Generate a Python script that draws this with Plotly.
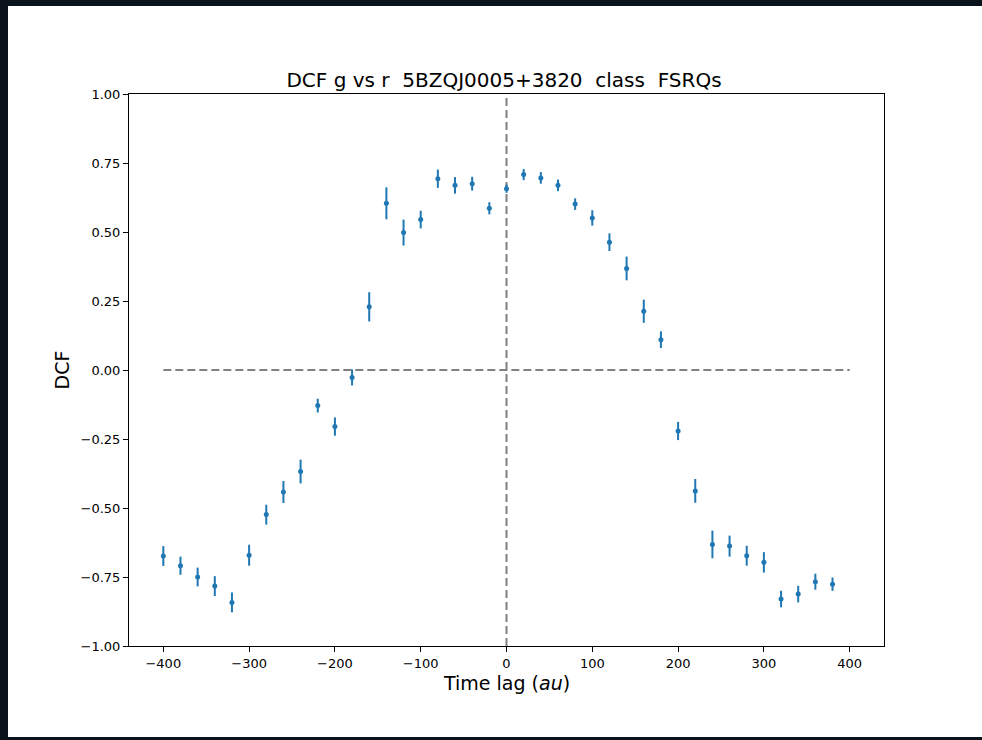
import plotly.graph_objects as go

# ---- data ----
lags = [-400, -380, -360, -340, -320, -300, -280, -260, -240, -220,
        -200, -180, -160, -140, -120, -100, -80, -60, -40, -20,
        0, 20, 40, 60, 80, 100, 120, 140, 160, 180,
        200, 220, 240, 260, 280, 300, 320, 340, 360, 380]
dcf = [-0.674, -0.709, -0.750, -0.783, -0.842, -0.671, -0.524, -0.442, -0.368, -0.129,
       -0.205, -0.027, 0.229, 0.604, 0.498, 0.545, 0.693, 0.669, 0.675, 0.586,
       0.657, 0.708, 0.696, 0.669, 0.601, 0.551, 0.463, 0.368, 0.213, 0.110,
       -0.221, -0.438, -0.632, -0.638, -0.673, -0.697, -0.830, -0.812, -0.767, -0.776]
dcf_err = [0.036, 0.033, 0.034, 0.036, 0.036, 0.038, 0.036, 0.040, 0.043, 0.025,
           0.033, 0.029, 0.053, 0.058, 0.047, 0.032, 0.033, 0.030, 0.025, 0.022,
           0.015, 0.020, 0.021, 0.021, 0.021, 0.028, 0.032, 0.043, 0.042, 0.030,
           0.033, 0.043, 0.050, 0.038, 0.036, 0.037, 0.030, 0.030, 0.029, 0.024]
hline_x = [-400, 400]
hline_y = [0, 0]
vline_x = [0, 0]
vline_y = [-1, 1]
x_ticks = [-400, -300, -200, -100, 0, 100, 200, 300, 400]
y_ticks = [-1.0, -0.75, -0.5, -0.25, 0.0, 0.25, 0.5, 0.75, 1.0]

FONT = "DejaVu Sans"
W, H = 982, 740
L, R, T, B = 129, 98, 94, 94
PW, PH = W - L - R, H - T - B

def px(xp):
    return (xp - L) / PW

def py(yp):
    return (H - B - yp) / PH

fig = go.Figure()

dash_style = dict(color="#808080", width=2, dash="8px,4px")
fig.add_trace(go.Scatter(x=hline_x, y=hline_y, mode="lines", line=dash_style,
                         hoverinfo="skip", showlegend=False))
fig.add_trace(go.Scatter(x=vline_x, y=vline_y, mode="lines", line=dash_style,
                         hoverinfo="skip", showlegend=False))
fig.add_trace(go.Scatter(
    x=lags, y=dcf, mode="markers",
    marker=dict(color="#1f77b4", size=5),
    error_y=dict(type="data", array=dcf_err, visible=True,
                 color="#1f77b4", thickness=2, width=0),
    showlegend=False))

fig.add_shape(type="rect", xref="paper", yref="paper",
              x0=px(8), x1=px(990), y0=py(737), y1=py(6),
              fillcolor="white", line=dict(width=0), layer="below")

fig.update_layout(
    width=W, height=H,
    margin=dict(l=L, r=R, t=T, b=B),
    paper_bgcolor="#0a121b",
    plot_bgcolor="white",
    font=dict(family=FONT, color="black", size=13),
    title=dict(text="DCF g vs r  5BZQJ0005+3820  class  FSRQs",
               x=px(504), xanchor="center", xref="paper",
               y=1 - 80 / H, yref="container", yanchor="middle",
               font=dict(family=FONT, size=20, color="black")),
    showlegend=False,
)
fig.update_xaxes(range=[-440, 440], tickvals=x_ticks,
                 ticks="outside", ticklen=5, tickwidth=1, tickcolor="black",
                 showline=True, linecolor="black", linewidth=1, mirror=True,
                 showgrid=False, zeroline=False,
                 tickfont=dict(family=FONT, size=13, color="black"))
fig.update_yaxes(range=[-1, 1], tickvals=y_ticks, tickformat=".2f",
                 ticks="outside", ticklen=5, tickwidth=1, tickcolor="black",
                 showline=True, linecolor="black", linewidth=1, mirror=True,
                 showgrid=False, zeroline=False,
                 tickfont=dict(family=FONT, size=13, color="black"))

fig.add_annotation(text="DCF", xref="paper", yref="paper",
                   x=px(61.5), y=py(370), textangle=-90,
                   showarrow=False, xanchor="center", yanchor="middle",
                   font=dict(family=FONT, size=19, color="black"))
fig.add_annotation(text="Time lag (<i>au</i>)", xref="paper", yref="paper",
                   x=px(506.5), y=py(683), showarrow=False,
                   xanchor="center", yanchor="middle",
                   font=dict(family=FONT, size=19, color="black"))

fig.write_html("out.html")
